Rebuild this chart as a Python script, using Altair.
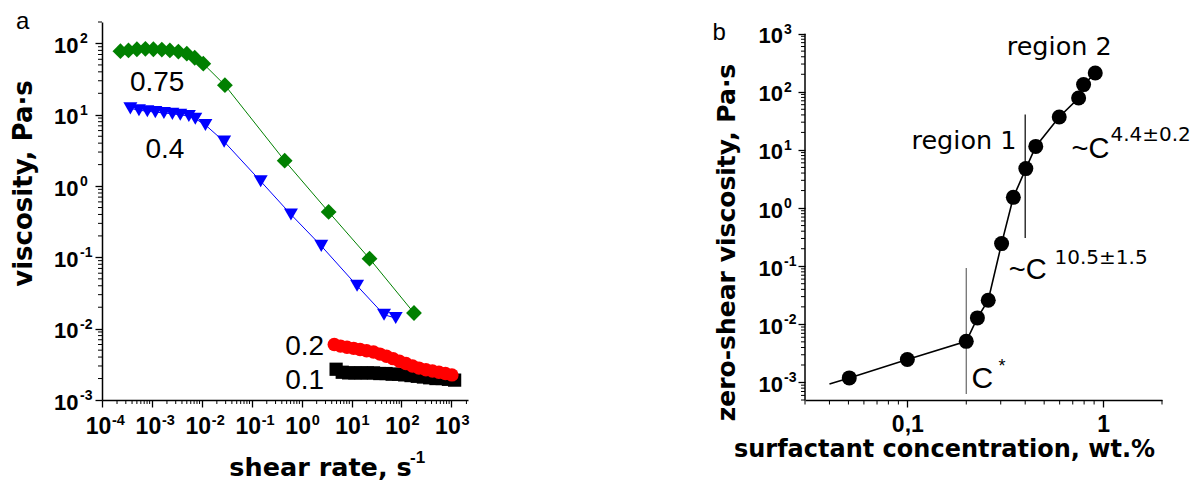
import altair as alt
import pandas as pd

# ---------------- panel a : viscosity vs shear rate ----------------
g75_x = [2.34e-4, 3.39e-4, 5.0e-4, 7.4e-4, 1.07e-3, 1.58e-3, 2.29e-3, 3.39e-3, 5.0e-3, 7.2e-3, 1.07e-2,
         0.029, 0.457, 3.47, 22.9, 178]
g75_y = [78, 80, 83, 84, 83, 82, 80, 77, 72, 63, 52, 26, 2.27, 0.434, 0.096, 0.0166]

b40_x = [3.7e-4, 5.5e-4, 8.1e-4, 1.17e-3, 1.74e-3, 2.57e-3, 3.7e-3, 5.5e-3, 7.4e-3,
         0.0118, 0.028, 0.151, 0.61, 2.47, 12.9, 44.7, 76.6]
b40_y = [12.3, 11.6, 11.2, 10.9, 10.6, 10.3, 10.0, 9.6, 8.8, 7.2, 4.2, 1.17, 0.40, 0.145, 0.040, 0.0157, 0.0141]

r20_x = [4.5, 6.0, 8.1, 11, 14.8, 20, 27.5, 37, 50, 68, 91, 123, 166, 224, 309, 417, 562, 759, 1023]
r20_y = [6.0e-3, 5.7e-3, 5.5e-3, 5.3e-3, 5.1e-3, 4.9e-3, 4.7e-3, 4.4e-3, 4.1e-3, 3.8e-3, 3.5e-3,
         3.25e-3, 3.0e-3, 2.8e-3, 2.65e-3, 2.55e-3, 2.45e-3, 2.35e-3, 2.25e-3]

k10_x = [4.9, 6.5, 8.7, 11.6, 15.5, 20.7, 27.5, 36.7, 49, 65, 87, 116, 155, 207, 275, 367, 490, 653, 871, 1160]
k10_y = [2.7e-3, 2.45e-3, 2.4e-3, 2.4e-3, 2.4e-3, 2.4e-3, 2.4e-3, 2.35e-3, 2.35e-3, 2.3e-3, 2.3e-3,
         2.25e-3, 2.2e-3, 2.15e-3, 2.1e-3, 2.05e-3, 2.0e-3, 2.0e-3, 1.95e-3, 1.9e-3]

a_labels_t = ["0.75", "0.4", "0.2", "0.1"]
a_labels_x = [4.47e-3, 4.47e-3, 2.82, 2.82]
a_labels_y = [21.3, 2.45, 4.23e-3, 1.41e-3]

a_xticks = [1e-4, 1e-3, 1e-2, 1e-1, 1e0, 1e1, 1e2, 1e3]
a_xexp = ["-4", "-3", "-2", "-1", "0", "1", "2", "3"]
a_yticks = [1e-3, 1e-2, 1e-1, 1e0, 1e1, 1e2]
a_yexp = ["-3", "-2", "-1", "0", "1", "2"]

# ---------------- panel b : zero-shear viscosity vs concentration ----------------
conc = [0.0505, 0.1, 0.2, 0.228, 0.259, 0.303, 0.348, 0.403, 0.453, 0.597, 0.75, 0.795, 0.912]
eta0 = [1.2e-3, 2.48e-3, 5.1e-3, 0.0129, 0.026, 0.245, 1.53, 4.77, 11.5, 36.8, 78.2, 133, 210]

fit_x = [0.04, 0.0505, 0.1, 0.2, 0.228, 0.259, 0.303, 0.348, 0.403, 0.453, 0.597, 0.75, 0.795, 0.912]
fit_y = [9.4e-4, 1.2e-3, 2.48e-3, 5.1e-3, 0.0129, 0.026, 0.245, 1.53, 4.77, 11.5, 36.8, 78.2, 133, 210]

vl_x = [0.2, 0.4]
vl_y1 = [0.093, 40.5]
vl_y2 = [6.35e-4, 0.306]
vl_color = ["#666666", "#000000"]

b_xticks = [0.1, 1.0]
b_yticks = [1e-3, 1e-2, 1e-1, 1e0, 1e1, 1e2, 1e3]
b_yexp = ["-3", "-2", "-1", "0", "1", "2", "3"]

# ---------------- geometry / style ----------------
WA, HA = 366, 378
WB, HB = 357, 378
LAB = "Liberation Sans"
TIT = "DejaVu Sans"


def minor(lo, hi):
    out = []
    for e in range(-6, 4):
        for m in range(2, 10):
            v = m * 10.0 ** e
            if lo * 0.999 <= v <= hi * 1.001:
                out.append(v)
    return out


# ---- panel a scales / axes
sxa = alt.Scale(type="log", domain=[1e-4, 2150], nice=False)
sya = alt.Scale(type="log", domain=[1e-3, 200], nice=False)
XA = alt.X("x:Q", scale=sxa, axis=alt.Axis(
    values=a_xticks, labelExpr="'10'", labelOffset=-4, labelPadding=8, labelBaseline="top",
    labelFont=LAB, labelFontSize=23, labelFontWeight="bold",
    labelFlush=False, labelOverlap=False, title="shear rate, s", titleX=218, titleY=75,
    titleFontSize=25.5, titleBaseline="alphabetic", titleAlign="center", titleAngle=0))
YA = alt.Y("y:Q", scale=sya, axis=alt.Axis(
    values=a_yticks, labelExpr="'10'", labelPadding=17, labelOffset=2, labelBaseline="middle",
    labelFont=LAB, labelFontSize=22, labelFontWeight="bold",
    labelFlush=False, labelOverlap=False, title="viscosity, Pa·s", titleX=-70.5, titleY=161,
    titleFontSize=26, titleBaseline="alphabetic", titleAlign="center", titleAngle=270))


def series(xs, ys, color, shape, size):
    df = pd.DataFrame({"x": xs, "y": ys})
    base = alt.Chart(df).encode(x=XA, y=YA)
    ln = base.mark_line(color=color, strokeWidth=1)
    pt = base.mark_point(shape=shape, filled=True, size=size, color=color, opacity=1, strokeWidth=0)
    return [ln, pt]


a_layers = []
a_layers += series(k10_x, k10_y, "#000000", "square", 175)
a_layers += series(r20_x, r20_y, "#ff0000", "circle", 180)
a_layers += series(b40_x, b40_y, "#0000ff", "triangle-down", 195)
a_layers += series(g75_x, g75_y, "#008000", "diamond", 250)

a_txt = alt.Chart(pd.DataFrame({"x": a_labels_x, "y": a_labels_y, "t": a_labels_t})).mark_text(
    align="right", baseline="alphabetic", font=LAB, fontSize=28, color="black").encode(x=XA, y=YA, text="t:N")

a_xmin = alt.Chart(pd.DataFrame({"x": minor(1e-4, 2150)})).mark_rule(color="black", strokeWidth=1).encode(
    x=XA, y=alt.value(HA), y2=alt.value(HA + 4))
a_ymin = alt.Chart(pd.DataFrame({"y": minor(1e-3, 200)})).mark_rule(color="black", strokeWidth=1).encode(
    y=YA, x=alt.value(0), x2=alt.value(-4))
a_xsup = alt.Chart(pd.DataFrame({"x": a_xticks, "t": a_xexp})).mark_text(
    align="left", baseline="alphabetic", dx=10, dy=25, font=LAB, fontSize=14.5, fontWeight="bold",
    color="black").encode(x=XA, y=alt.value(HA), text="t:N")
a_ysup = alt.Chart(pd.DataFrame({"y": a_yticks, "t": a_yexp})).mark_text(
    align="left", baseline="alphabetic", dx=-22, dy=0, font=LAB, fontSize=14, fontWeight="bold",
    color="black").encode(y=YA, x=alt.value(0), text="t:N")
a_tsup = alt.Chart(pd.DataFrame({"t": ["-1"]})).mark_text(
    align="left", baseline="alphabetic", font=LAB, fontSize=17, fontWeight="bold", color="black").encode(
    x=alt.value(308), y=alt.value(HA + 63), text="t:N")
a_tag = alt.Chart(pd.DataFrame({"t": ["a"]})).mark_text(
    align="left", baseline="alphabetic", font=LAB, fontSize=24, color="black").encode(
    x=alt.value(-86), y=alt.value(6.6), text="t:N")

panel_a = alt.layer(a_xmin, a_ymin, *a_layers, a_txt, a_xsup, a_ysup, a_tsup, a_tag).properties(
    width=WA, height=HA)

# ---- panel b scales / axes
sxb = alt.Scale(type="log", domain=[0.03, 2.0], nice=False)
syb = alt.Scale(type="log", domain=[5e-4, 1585], nice=False)
XB = alt.X("x:Q", scale=sxb, axis=alt.Axis(
    values=b_xticks, labelExpr="datum.value < 0.5 ? '0,1' : '1'", labelPadding=6, labelBaseline="top",
    labelFont=LAB, labelFontSize=23, labelFontWeight="bold",
    labelFlush=False, labelOverlap=False, title="surfactant concentration, wt.%", titleX=139, titleY=56,
    titleBaseline="alphabetic", titleAlign="center", titleAngle=0))
YB = alt.Y("y:Q", scale=syb, axis=alt.Axis(
    values=b_yticks, labelExpr="'10'", labelPadding=15.5, labelOffset=2, labelBaseline="middle",
    labelFont=LAB, labelFontSize=22, labelFontWeight="bold",
    labelFlush=False, labelOverlap=False, domain=False, title="zero-shear viscosity, Pa·s",
    titleX=-70.5, titleY=220, titleFontSize=25, titleBaseline="alphabetic", titleAlign="center",
    titleAngle=270))

b_pts_df = pd.DataFrame({"x": conc, "y": eta0})
b_fit_df = pd.DataFrame({"x": fit_x, "y": fit_y})
b_vl_df = pd.DataFrame({"x": vl_x, "y": vl_y1, "y2": vl_y2, "c": vl_color})

b_fit = alt.Chart(b_fit_df).mark_line(color="black", strokeWidth=1.6).encode(x=XB, y=YB)
b_pts = alt.Chart(b_pts_df).mark_circle(color="black", size=225, opacity=1).encode(x=XB, y=YB)
b_vl = alt.Chart(b_vl_df).mark_rule(strokeWidth=1.2).encode(
    x=XB, y=YB, y2="y2:Q", color=alt.Color("c:N", scale=None))
b_yline = alt.Chart(pd.DataFrame({"y": [1000.0]})).mark_rule(color="black", strokeWidth=1.5).encode(
    x=alt.value(0), y=YB, y2=alt.value(HB))
b_xmin = alt.Chart(pd.DataFrame({"x": minor(0.03, 2.0)})).mark_rule(color="black", strokeWidth=1).encode(
    x=XB, y=alt.value(HB), y2=alt.value(HB + 4.5))
b_ymin = alt.Chart(pd.DataFrame({"y": minor(5e-4, 1000)})).mark_rule(color="black", strokeWidth=1).encode(
    y=YB, x=alt.value(0), x2=alt.value(-4))
b_ysup = alt.Chart(pd.DataFrame({"y": b_yticks, "t": b_yexp})).mark_text(
    align="left", baseline="alphabetic", dx=-21, dy=0, font=LAB, fontSize=14, fontWeight="bold",
    color="black").encode(y=YB, x=alt.value(0), text="t:N")


def txt(t, x, y, size, font=LAB):
    return alt.Chart(pd.DataFrame({"x": [x], "y": [y], "t": [t]})).mark_text(
        align="left", baseline="alphabetic", font=font, fontSize=size, color="black").encode(
        x=XB, y=YB, text="t:N")


b_texts = [
    txt("region 2", 0.322, 436, 25.5, TIT),
    txt("region 1", 0.105, 10.2, 25.5, TIT),
    txt("~C", 0.690, 7.18, 29),
    txt("4.4±0.2", 1.09, 14.1, 20, TIT),
    txt("~C", 0.330, 0.0596, 29),
    txt("10.5±1.5", 0.565, 0.108, 20, TIT),
    txt("C", 0.213, 7.9e-4, 30),
    txt("*", 0.292, 1.5e-3, 18),
]
b_tag = alt.Chart(pd.DataFrame({"t": ["b"]})).mark_text(
    align="left", baseline="alphabetic", font=LAB, fontSize=24, color="black").encode(
    x=alt.value(-92.5), y=alt.value(17.6), text="t:N")

panel_b = alt.layer(b_yline, b_xmin, b_ymin, b_vl, b_fit, b_pts, b_ysup, *b_texts, b_tag).properties(
    width=WB, height=HB)

chart = alt.hconcat(panel_a, panel_b, spacing=242).properties(
    padding={"left": 2, "top": 1, "right": 0, "bottom": 0}
).configure_view(stroke=None).configure_axis(
    grid=False, domainColor="black", domainWidth=1.5, tickColor="black", tickWidth=1.3, tickSize=7,
    labelColor="black", labelFont=LAB, labelFontSize=22, labelFontWeight="bold",
    titleColor="black", titleFont=TIT, titleFontSize=24, titleFontWeight="bold"
)

chart.save("out.html", embed_options={"renderer": "svg", "actions": False})
